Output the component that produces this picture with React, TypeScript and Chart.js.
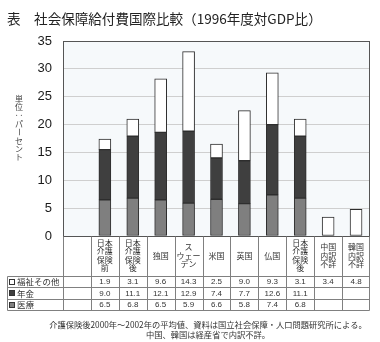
import { useEffect, useRef } from 'react';
import { Chart, registerables } from 'chart.js';

Chart.register(...registerables);

const JP = "'Noto Sans CJK JP', 'Noto Sans', sans-serif";
const LAT = "'Liberation Sans', Arial, sans-serif";

const titleText = '表　社会保障給付費国際比較（1996年度対GDP比）';
const yAxisLabel = ['単', '位', '：', 'パ', 'ー', 'セ', 'ン', 'ト'];
const categories = ['日本介護保険前', '日本介護保険後', '独国', 'スウェーデン', '米国', '英国', '仏国', '日本介護保険後', '中国内訳不詳', '韓国内訳不詳'];
const headerLines = [
  ['日本', '介護', '保険', '前'],
  ['日本', '介護', '保険', '後'],
  ['独国'],
  ['ス', 'ウェー', 'デン'],
  ['米国'],
  ['英国'],
  ['仏国'],
  ['日本', '介護', '保険', '後'],
  ['中国', '内訳', '不詳'],
  ['韓国', '内訳', '不詳'],
];
const seriesNames = ['福祉その他', '年金', '医療'];
const welfare = [1.9, 3.1, 9.6, 14.3, 2.5, 9.0, 9.3, 3.1, 3.4, 4.8];
const pension = [9.0, 11.1, 12.1, 12.9, 7.4, 7.7, 12.6, 11.1, null, null];
const medical = [6.5, 6.8, 6.5, 5.9, 6.6, 5.8, 7.4, 6.8, null, null];
const yMin = 0;
const yMax = 35;
const yStep = 5;
const footnotes = [
  '介護保険後2000年～2002年の平均値、資料は国立社会保障・人口問題研究所による。',
  '中国、韓国は経産省で内訳不詳。',
];

const seriesColors = ['#ffffff', '#3f3f3f', '#7f7f7f'];

function fitFont(ctx: CanvasRenderingContext2D, text: string, width: number, family: string) {
  ctx.font = `10px ${family}`;
  const w = ctx.measureText(text).width;
  return (10 * width) / w;
}

export default function App() {
  const ref = useRef<HTMLCanvasElement>(null);

  useEffect(() => {
    document.body.style.margin = '0';
    const canvas = ref.current!;
    const rows = [welfare, pension, medical];

    const decor = {
      id: 'decor',
      beforeDraw(chart: any) {
        const { ctx, chartArea: ca } = chart;
        ctx.save();
        ctx.fillStyle = '#ffffff';
        ctx.fillRect(0, 0, chart.width, chart.height);
        ctx.fillStyle = '#f6f9fb';
        ctx.fillRect(ca.left, ca.top, ca.right - ca.left, ca.bottom - ca.top);
        ctx.restore();
      },
      afterDraw(chart: any) {
        const { ctx, chartArea: ca } = chart;
        const xs = chart.scales.x;
        const n = xs.getLabels().length;
        const colW = (ca.right - ca.left) / n;
        ctx.save();

        // title
        ctx.fillStyle = '#222';
        const ts = fitFont(ctx, titleText, 315, JP);
        ctx.font = `${ts}px ${JP}`;
        ctx.textAlign = 'left';
        ctx.textBaseline = 'middle';
        ctx.fillText(titleText, 7, 18.5);

        // y axis label (vertical)
        ctx.fillStyle = '#444';
        ctx.font = `8px ${JP}`;
        ctx.textAlign = 'center';
        yAxisLabel.forEach((ch, i) => {
          const y = 98.5 + i * 8.4;
          if (ch === '：' || ch === 'ー') {
            ctx.save();
            ctx.translate(19, y);
            ctx.rotate(Math.PI / 2);
            ctx.fillText(ch, 0, 0);
            ctx.restore();
          } else {
            ctx.fillText(ch, 19, y);
          }
        });

        // plot border
        ctx.strokeStyle = '#555';
        ctx.lineWidth = 1;
        const L = Math.round(ca.left) + 0.5;
        const R = Math.round(ca.right) - 0.5;
        const T = Math.round(ca.top) + 0.5;
        const B = Math.round(ca.bottom) + 0.5;
        ctx.strokeRect(L, T, R - L, B - T);

        // table
        const headerTop = B;
        const headerBottom = Math.round(ca.bottom + 40) + 0.5;
        const rowH = 11.3;
        const labelLeft = 7.5;
        const tableBottom = Math.round(headerBottom + rowH * 3) + 0.5;
        ctx.strokeStyle = '#808080';
        ctx.beginPath();
        for (let r = 0; r <= 3; r++) {
          const y = Math.round(headerBottom + r * rowH - 0.5) + 0.5;
          ctx.moveTo(labelLeft, y);
          ctx.lineTo(R, y);
        }
        ctx.moveTo(labelLeft, headerBottom);
        ctx.lineTo(labelLeft, tableBottom);
        for (let i = 0; i <= n; i++) {
          const x = i === n ? R : Math.round(xs.getPixelForValue(i) - colW / 2) + 0.5;
          ctx.moveTo(x, headerTop);
          ctx.lineTo(x, tableBottom);
        }
        ctx.stroke();

        // header texts
        ctx.fillStyle = '#333';
        ctx.font = `8px ${JP}`;
        ctx.textAlign = 'center';
        ctx.textBaseline = 'middle';
        headerLines.forEach((lines, i) => {
          const x = xs.getPixelForValue(i + 1);
          const lh = 8.2;
          const top = 255.5 - (lines.length * lh) / 2 + lh / 2;
          lines.forEach((t, k) => ctx.fillText(t, x, top + k * lh));
        });

        // row labels and values
        rows.forEach((vals, r) => {
          const yc = headerBottom + r * rowH + rowH / 2;
          ctx.fillStyle = seriesColors[r];
          ctx.fillRect(9, Math.round(yc - 3), 6, 6);
          ctx.strokeStyle = '#333';
          ctx.strokeRect(9.5, Math.round(yc - 3) + 0.5, 5, 5);
          ctx.fillStyle = '#333';
          ctx.font = `8.5px ${JP}`;
          ctx.textAlign = 'left';
          ctx.fillText(seriesNames[r], 17, yc);
          ctx.font = `8px ${LAT}`;
          ctx.textAlign = 'center';
          vals.forEach((v, i) => {
            if (v === null || v === undefined) return;
            ctx.fillText((v as number).toFixed(1), xs.getPixelForValue(i + 1), yc);
          });
        });

        // footnotes
        ctx.fillStyle = '#333';
        const fs = fitFont(ctx, footnotes[0], 318, JP);
        ctx.font = `${fs}px ${JP}`;
        ctx.textAlign = 'center';
        footnotes.forEach((t, i) => ctx.fillText(t, 208, 324.5 + i * 10));

        ctx.restore();
      },
    };

    const labels = ['', ...categories];
    const mk = (arr: (number | null)[]) => [null, ...arr];

    const chart = new Chart(canvas, {
      type: 'bar',
      data: {
        labels,
        datasets: [
          { label: seriesNames[2], data: mk(medical), backgroundColor: seriesColors[2] },
          { label: seriesNames[1], data: mk(pension), backgroundColor: seriesColors[1] },
          { label: seriesNames[0], data: mk(welfare), backgroundColor: seriesColors[0] },
        ].map((d) => ({
          ...d,
          borderColor: '#2e2e2e',
          borderWidth: 1,
          borderSkipped: false,
          barThickness: 12,
        })),
      },
      options: {
        responsive: false,
        animation: false,
        devicePixelRatio: 1,
        layout: { padding: { top: 41, right: 10, bottom: 106, left: 0 } },
        plugins: { legend: { display: false }, tooltip: { enabled: false }, title: { display: false } },
        scales: {
          x: { type: 'category', stacked: true, display: false, offset: true, grid: { display: false } },
          y: {
            stacked: true,
            min: yMin,
            max: yMax,
            ticks: { stepSize: yStep, padding: 11, color: '#1a1a1a', font: { size: 13, family: LAT } },
            grid: { color: '#cfcfcf', drawTicks: false },
            border: { display: false },
            afterFit(scale: any) {
              scale.width = 63;
            },
          },
        },
      },
      plugins: [decor],
    } as any);

    return () => chart.destroy();
  }, []);

  return (
    <div style={{ width: 380, height: 342 }}>
      <canvas ref={ref} width={380} height={342} style={{ display: 'block', width: 380, height: 342 }} />
    </div>
  );
}
